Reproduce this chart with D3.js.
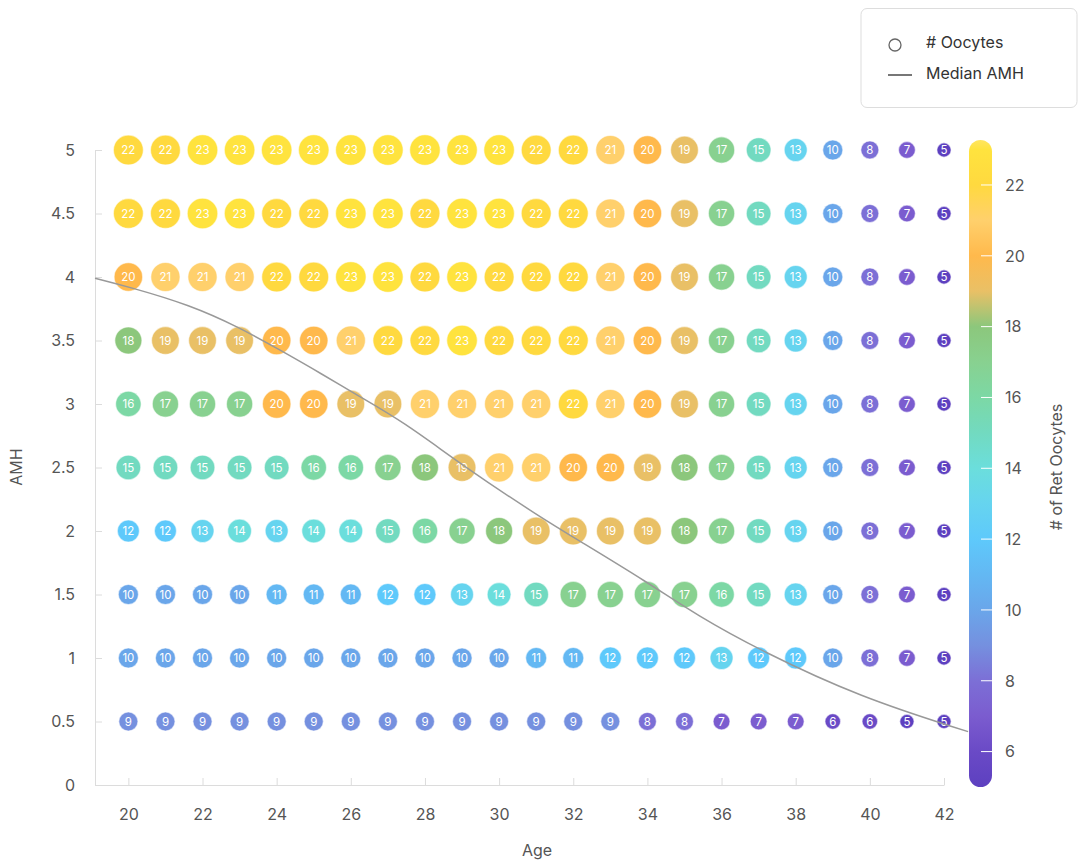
<!DOCTYPE html>
<html>
<head>
<meta charset="utf-8">
<script src="https://cdn.jsdelivr.net/npm/d3@7"></script>
<style>
	body { margin: 0; background: #fff; }
	svg { display: block; font-family: Inter, "Noto Sans", sans-serif; }
</style>
</head>
<body>
<div class="js-chart"></div>
<script>
'use strict';

// ages on the x axis, AMH levels on the y axis
const ages = [20, 21, 22, 23, 24, 25, 26, 27, 28, 29, 30, 31, 32, 33, 34, 35, 36, 37, 38, 39, 40, 41, 42];
const amhLevels = [5, 4.5, 4, 3.5, 3, 2.5, 2, 1.5, 1, 0.5];

// # of retrieved oocytes, one array per AMH level (ages 20..42)
const oocytesAmh50 = [22, 22, 23, 23, 23, 23, 23, 23, 23, 23, 23, 22, 22, 21, 20, 19, 17, 15, 13, 10, 8, 7, 5];
const oocytesAmh45 = [22, 22, 23, 23, 22, 22, 23, 23, 22, 23, 23, 22, 22, 21, 20, 19, 17, 15, 13, 10, 8, 7, 5];
const oocytesAmh40 = [20, 21, 21, 21, 22, 22, 23, 23, 22, 23, 22, 22, 22, 21, 20, 19, 17, 15, 13, 10, 8, 7, 5];
const oocytesAmh35 = [18, 19, 19, 19, 20, 20, 21, 22, 22, 23, 22, 22, 22, 21, 20, 19, 17, 15, 13, 10, 8, 7, 5];
const oocytesAmh30 = [16, 17, 17, 17, 20, 20, 19, 19, 21, 21, 21, 21, 22, 21, 20, 19, 17, 15, 13, 10, 8, 7, 5];
const oocytesAmh25 = [15, 15, 15, 15, 15, 16, 16, 17, 18, 19, 21, 21, 20, 20, 19, 18, 17, 15, 13, 10, 8, 7, 5];
const oocytesAmh20 = [12, 12, 13, 14, 13, 14, 14, 15, 16, 17, 18, 19, 19, 19, 19, 18, 17, 15, 13, 10, 8, 7, 5];
const oocytesAmh15 = [10, 10, 10, 10, 11, 11, 11, 12, 12, 13, 14, 15, 17, 17, 17, 17, 16, 15, 13, 10, 8, 7, 5];
const oocytesAmh10 = [10, 10, 10, 10, 10, 10, 10, 10, 10, 10, 10, 11, 11, 12, 12, 12, 13, 12, 12, 10, 8, 7, 5];
const oocytesAmh05 = [9, 9, 9, 9, 9, 9, 9, 9, 9, 9, 9, 9, 9, 9, 8, 8, 7, 7, 7, 6, 6, 5, 5];

const oocyteRows = [oocytesAmh50, oocytesAmh45, oocytesAmh40, oocytesAmh35, oocytesAmh30,
	oocytesAmh25, oocytesAmh20, oocytesAmh15, oocytesAmh10, oocytesAmh05];

// median AMH curve
const medianAges = [19.1, 20.04, 21.66, 23.01, 24.0, 25.26, 26.16, 27.42, 29.04, 31.1, 32.18, 33.98, 35.37, 37.04, 39.74, 42.65];
const medianAmh = [3.99, 3.92, 3.78, 3.6, 3.44, 3.23, 3.07, 2.86, 2.51, 2.11, 1.92, 1.6, 1.33, 1.06, 0.69, 0.42];

// tick labels
const yTicks = [0, 0.5, 1, 1.5, 2, 2.5, 3, 3.5, 4, 4.5, 5];
const xTicks = [20, 22, 24, 26, 28, 30, 32, 34, 36, 38, 40, 42];
const colorTicks = [6, 8, 10, 12, 14, 16, 18, 20, 22];

// colour stops for the oocyte count
const colorDomain = [5, 6, 7, 8, 9, 10, 11, 12, 13, 14, 15, 16, 17, 18, 19, 20, 21, 22, 23];
const colorRange = ['#5d40c0', '#6a4ac6', '#7b5ccf', '#7c6fd6', '#7590df', '#6aa6ea', '#63b8f3', '#5ec9fb',
	'#66d4ef', '#6bdedc', '#72dac0', '#7cd8a5', '#88d190', '#8cc77c', '#e9c066', '#ffb94c', '#ffd06c',
	'#ffd93f', '#ffe33e'];

function drawChart() {

	let svgWidth = 1078;
	let svgHeight = 865;

	const xScale = d3.scaleLinear().domain([19.1, 42]).range([95, 944]);
	const yScale = d3.scaleLinear().domain([0, 5]).range([785, 150]);
	const rScale = d3.scaleSqrt().domain([0, 23]).range([0, 15.3]);
	const colorScale = d3.scaleLinear().domain(colorDomain).range(colorRange);

	let svg = d3.select('.js-chart')
		.append('svg')
		.attr('width', svgWidth)
		.attr('height', svgHeight);

	// axes
	const yAxis = d3.axisLeft(yScale)
		.tickValues(yTicks)
		.tickFormat(d3.format('~g'))
		.tickSize(-7)
		.tickSizeOuter(0)
		.tickPadding(20);

	const xAxis = d3.axisBottom(xScale)
		.tickValues(xTicks)
		.tickSize(-7)
		.tickSizeOuter(0)
		.tickPadding(24);

	const gy = svg.append('g')
		.attr('transform', 'translate(95,0)')
		.call(yAxis);

	const gx = svg.append('g')
		.attr('transform', 'translate(0,785)')
		.call(xAxis);

	[gx, gy].forEach(function(g) {
		g.select('.domain').attr('stroke', '#dcdcdc');
		g.selectAll('.tick line').attr('stroke', '#dcdcdc');
		g.selectAll('.tick text')
			.attr('fill', '#555')
			.style('font-size', '16px')
			.style('font-family', 'Inter, sans-serif');
	});

	svg.append('text')
		.attr('x', 537)
		.attr('y', 852)
		.attr('text-anchor', 'middle')
		.attr('dominant-baseline', 'middle')
		.attr('fill', '#555')
		.style('font-size', '16px')
		.text('Age');

	svg.append('text')
		.attr('transform', 'translate(18,467) rotate(-90)')
		.attr('text-anchor', 'middle')
		.attr('dominant-baseline', 'middle')
		.attr('fill', '#555')
		.style('font-size', '16px')
		.text('AMH');

	// flatten rows into cells
	const cells = [];
	oocyteRows.forEach(function(row, i) {
		row.forEach(function(v, j) {
			cells.push({ age: ages[j], amh: amhLevels[i], value: v });
		});
	});

	// bubbles
	const bubble = svg.append('g')
		.selectAll('g')
		.data(cells)
		.enter()
		.append('g')
		.attr('transform', function(d) {
			return 'translate(' + xScale(d.age) + ',' + yScale(d.amh) + ')';
		});

	bubble.append('circle')
		.attr('r', function(d) { return rScale(d.value); })
		.attr('fill', function(d) { return colorScale(d.value); })
		.attr('stroke', '#fff')
		.attr('stroke-opacity', 0.55)
		.attr('stroke-width', 1.2);

	bubble.append('text')
		.attr('text-anchor', 'middle')
		.attr('dy', '0.36em')
		.attr('fill', '#fff')
		.style('font-size', '11.5px')
		.text(function(d) { return d.value; });

	// median AMH line
	const medianPoints = medianAges.map(function(a, i) { return [a, medianAmh[i]]; });
	const line = d3.line()
		.x(function(d) { return xScale(d[0]); })
		.y(function(d) { return yScale(d[1]); })
		.curve(d3.curveBasis);

	svg.append('path')
		.datum(medianPoints)
		.attr('d', line)
		.attr('fill', 'none')
		.attr('stroke', '#999')
		.attr('stroke-width', 1.5);

	// colour legend bar
	const barScale = d3.scaleLinear().domain([5, 23.27]).range([787, 140]);
	const defs = svg.append('defs');
	const grad = defs.append('linearGradient')
		.attr('id', 'oocyteGradient')
		.attr('x1', 0).attr('y1', 1)
		.attr('x2', 0).attr('y2', 0);

	grad.selectAll('stop')
		.data(colorDomain)
		.enter()
		.append('stop')
		.attr('offset', function(d) { return (d - 5) / (23.27 - 5); })
		.attr('stop-color', function(d) { return colorScale(d); });

	grad.append('stop')
		.attr('offset', 1)
		.attr('stop-color', '#ffe560');

	svg.append('rect')
		.attr('x', 969)
		.attr('y', barScale(23.27))
		.attr('width', 23)
		.attr('height', barScale(5) - barScale(23.27))
		.attr('rx', 11.5)
		.attr('fill', 'url(#oocyteGradient)');

	const barTicks = svg.append('g')
		.selectAll('g')
		.data(colorTicks)
		.enter()
		.append('g')
		.attr('transform', function(d) { return 'translate(0,' + barScale(d) + ')'; });

	barTicks.append('line')
		.attr('x1', 981)
		.attr('x2', 992)
		.attr('stroke', '#fff')
		.attr('stroke-width', 1);

	barTicks.append('text')
		.attr('x', 1005)
		.attr('dy', '0.36em')
		.attr('fill', '#555')
		.style('font-size', '16px')
		.text(function(d) { return d; });

	svg.append('text')
		.attr('transform', 'translate(1058,467) rotate(-90)')
		.attr('text-anchor', 'middle')
		.attr('dominant-baseline', 'middle')
		.attr('fill', '#555')
		.style('font-size', '16px')
		.text('# of Ret Oocytes');

	// legend box
	const legend = svg.append('g');

	legend.append('rect')
		.attr('x', 861)
		.attr('y', 8.5)
		.attr('width', 216)
		.attr('height', 99)
		.attr('rx', 6)
		.attr('fill', '#fff')
		.attr('stroke', '#dddddd');

	legend.append('circle')
		.attr('cx', 895)
		.attr('cy', 45)
		.attr('r', 6)
		.attr('fill', 'none')
		.attr('stroke', '#666')
		.attr('stroke-width', 1.3);

	legend.append('line')
		.attr('x1', 888)
		.attr('x2', 912)
		.attr('y1', 75)
		.attr('y2', 75)
		.attr('stroke', '#777')
		.attr('stroke-width', 2);

	legend.selectAll('text')
		.data(['# Oocytes', 'Median AMH'])
		.enter()
		.append('text')
		.attr('x', 926)
		.attr('y', function(d, i) { return 44 + i * 31; })
		.attr('dominant-baseline', 'middle')
		.attr('fill', '#333')
		.style('font-size', '16px')
		.text(function(d) { return d; });
}

drawChart();
</script>
</body>
</html>
